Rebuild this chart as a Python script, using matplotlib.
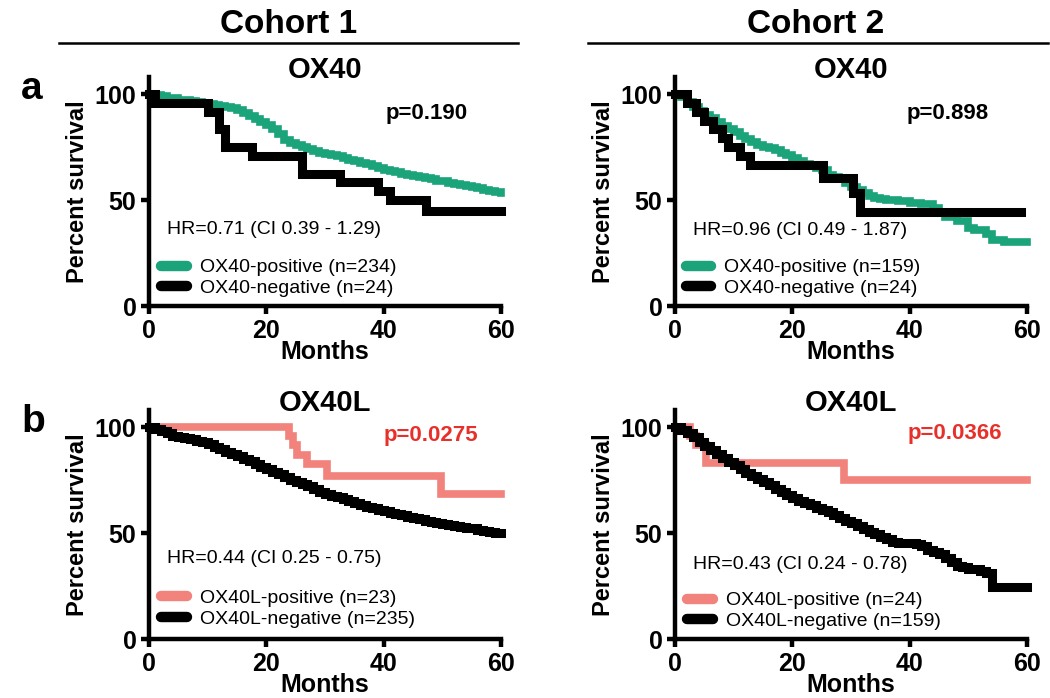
import matplotlib
matplotlib.use("Agg")
import matplotlib.pyplot as plt
from matplotlib import font_manager
from matplotlib.lines import Line2D

# ---- values ----
month_ticks = [0, 20, 40, 60]
pct_ticks = [0, 50, 100]

# Cohort 1, OX40
c1_ox40_pos_t = list(range(0, 61))
c1_ox40_pos_s = [100, 99.6, 99, 98.3, 97.9, 97.4, 97, 96.6, 96.2, 95.7,
                 95.3, 94.9, 94.4, 94, 93.2, 92.3, 91, 89.7, 88.4, 87,
                 85.5, 83.5, 81, 78.5, 77, 76, 75, 74, 73, 72.3,
                 71.7, 71.2, 70.8, 70, 69, 68.2, 67.5, 66.8, 66, 65,
                 64.2, 63.6, 63, 62.4, 61.9, 61.3, 60.7, 60.2, 59.7, 59.2,
                 58.8, 58.2, 57.7, 57.2, 56.8, 56.2, 55.5, 54.8, 54.3, 53.8, 53.5]
c1_ox40_neg_t = [0, 1, 10, 12, 13, 17.5, 26, 32.5, 39, 41, 47.3, 60]
c1_ox40_neg_s = [100, 95.8, 91.7, 83.3, 75.0, 70.8, 62.5, 58.3, 54.2, 50.0, 44.6, 44.6]

# Cohort 2, OX40
c2_ox40_pos_t = list(range(0, 37)) + [38, 40, 42, 44, 45, 46, 48, 50, 51, 53, 54, 56, 60]
c2_ox40_pos_s = [100, 98.7, 96, 94, 92, 90, 88.5, 87, 85, 83.5,
                 82, 80, 79, 77.5, 76, 75, 74.5, 73.5, 72, 71,
                 70, 68.5, 67, 66, 65, 64, 62, 61, 60, 58,
                 56, 54.5, 53.5, 52, 51, 50.5, 50,
                 49.5, 48.5, 48, 46, 44, 42, 40, 37, 36, 34, 31, 30, 30]
c2_ox40_neg_t = [0, 2, 3.5, 5, 6.5, 8, 9, 11, 12.8, 25.2, 30.3, 31.5, 59]
c2_ox40_neg_s = [100, 95.8, 91.7, 87.5, 83.3, 79.2, 75.0, 70.8, 66.7, 60.4, 53.3, 44.4, 44.4]

# Cohort 1, OX40L
c1_ox40l_pos_t = [0, 23.8, 24.6, 25.2, 26.9, 30.3, 49.7, 60]
c1_ox40l_pos_s = [100, 95.7, 91.3, 87.0, 82.6, 76.9, 68.5, 68.5]
c1_ox40l_neg_t = list(range(0, 61))
c1_ox40l_neg_s = [100, 99, 98, 97, 96, 95.5, 95, 94.4, 93.6, 92.8,
                  91.8, 90.7, 89.5, 88.3, 87.2, 86.2, 85, 83.8, 82.5, 81.2,
                  80, 79, 78, 76.5, 75, 74, 73, 72, 70.6, 69.4,
                  68.5, 67.6, 66.8, 66, 65, 64, 63.2, 62.5, 61.9, 61,
                  60.3, 59.6, 58.9, 58.3, 57.7, 57, 56.4, 55.8, 55.2, 54.8,
                  54.4, 54, 53.5, 53, 52.6, 52.2, 51.6, 51, 50.5, 50, 50]

# Cohort 2, OX40L
c2_ox40l_pos_t = [0, 2.5, 3.5, 5.3, 28.8, 60]
c2_ox40l_pos_s = [100, 95.8, 91.7, 82.8, 75.0, 75.0]
c2_ox40l_neg_t = list(range(0, 61))
c2_ox40l_neg_s = [100, 98.5, 97, 95.5, 93, 91, 89, 87.5, 85.5, 83.5,
                  82, 80, 78.5, 77, 75.5, 74, 72.5, 71, 69.5, 68,
                  66.5, 65, 64, 63, 62, 61, 60, 58.5, 57, 55.5,
                  54.5, 53.5, 52, 50.5, 49.5, 48, 47, 46, 45.3, 45.3,
                  45.3, 45, 44, 42, 41, 40, 38, 36.5, 34.5, 34,
                  33, 33, 32, 31, 24.5, 24.5, 24.5, 24.5, 24.5, 24.5, 24.5]

GREEN = "#1ba37a"
PINK = "#f2827c"
RED = "#e8302a"


def has_font(name):
    try:
        font_manager.findfont(name, fallback_to_default=False)
        return True
    except ValueError:
        return False


plt.rcParams["font.family"] = ["Liberation Sans", "DejaVu Sans"]
narrow = "Liberation Sans Narrow" if has_font("Liberation Sans Narrow") else "Liberation Sans"

fig = plt.figure(figsize=(10.5, 6.98), dpi=100)

panels = [
    dict(rect=[0.1419, 0.5616, 0.3352, 0.328], title="OX40",
         pos=(c1_ox40_pos_t, c1_ox40_pos_s, "OX40-positive (n=234)", GREEN),
         neg=(c1_ox40_neg_t, c1_ox40_neg_s, "OX40-negative (n=24)"),
         p="p=0.190", pcol="black", pxy=(47.4, 91),
         hr="HR=0.71 (CI 0.39 - 1.29)", hry=0.333, leg=(0.035, 0.04)),
    dict(rect=[0.6429, 0.5616, 0.3352, 0.328], title="OX40",
         pos=(c2_ox40_pos_t, c2_ox40_pos_s, "OX40-positive (n=159)", GREEN),
         neg=(c2_ox40_neg_t, c2_ox40_neg_s, "OX40-negative (n=24)"),
         p="p=0.898", pcol="black", pxy=(46.4, 91),
         hr="HR=0.96 (CI 0.49 - 1.87)", hry=0.328, leg=(0.03, 0.04)),
    dict(rect=[0.1419, 0.0845, 0.3352, 0.328], title="OX40L",
         pos=(c1_ox40l_pos_t, c1_ox40l_pos_s, "OX40L-positive (n=23)", PINK),
         neg=(c1_ox40l_neg_t, c1_ox40l_neg_s, "OX40L-negative (n=235)"),
         p="p=0.0275", pcol=RED, pxy=(48, 96),
         hr="HR=0.44 (CI 0.25 - 0.75)", hry=0.35, leg=(0.035, 0.05)),
    dict(rect=[0.6429, 0.0845, 0.3352, 0.328], title="OX40L",
         pos=(c2_ox40l_pos_t, c2_ox40l_pos_s, "OX40L-positive (n=24)", PINK),
         neg=(c2_ox40l_neg_t, c2_ox40l_neg_s, "OX40L-negative (n=159)"),
         p="p=0.0366", pcol=RED, pxy=(47.7, 97),
         hr="HR=0.43 (CI 0.24 - 0.78)", hry=0.324, leg=(0.035, 0.04)),
]

for cfg in panels:
    ax = fig.add_axes(cfg["rect"])
    pt, ps, plab, pcolor = cfg["pos"]
    nt, ns, nlab = cfg["neg"]
    ax.step(pt, ps, where="post", color=pcolor, lw=5.5, label=plab,
            solid_joinstyle="miter", clip_on=False, zorder=3)
    ax.step(nt, ns, where="post", color="black", lw=6.5, label=nlab,
            solid_joinstyle="miter", clip_on=False, zorder=4)

    ax.set_xlim(0, 60)
    ax.set_ylim(0, 108)
    ax.set_xticks(month_ticks)
    ax.set_yticks(pct_ticks)
    for side in ("top", "right"):
        ax.spines[side].set_visible(False)
    for side in ("left", "bottom"):
        ax.spines[side].set_linewidth(3.2)
    ax.tick_params(width=3.2, length=6, labelsize=18, pad=3)
    for lab in ax.get_xticklabels() + ax.get_yticklabels():
        lab.set_fontweight("bold")
    ax.set_xlabel("Months", fontsize=18, fontweight="bold", labelpad=-2)
    ax.set_ylabel("Percent survival", fontsize=17, fontweight="bold", labelpad=4)

    ax.text(0.5, 1.03, cfg["title"], transform=ax.transAxes, ha="center",
            va="center", fontsize=21, fontweight="bold")
    ax.text(cfg["pxy"][0], cfg["pxy"][1], cfg["p"], ha="center", va="center",
            fontsize=16, fontweight="bold", color=cfg["pcol"])
    ax.text(0.05, cfg["hry"], cfg["hr"], transform=ax.transAxes, ha="left",
            va="center", fontsize=14)

    leg = ax.legend(loc="lower left", bbox_to_anchor=cfg["leg"], frameon=False,
                    fontsize=14, handlelength=1.3, handletextpad=0.7,
                    labelspacing=0.15, borderpad=0, borderaxespad=0)
    for h in leg.get_lines():
        h.set_linewidth(7.5)
        h.set_solid_capstyle("round")

# column headers
for xc, name, x0, x1 in [(0.275, "Cohort 1", 0.056, 0.493),
                         (0.777, "Cohort 2", 0.560, 0.998)]:
    fig.text(xc, 0.965, name, ha="center", va="center", fontsize=24,
             fontweight="bold", family=[narrow, "DejaVu Sans"])
    fig.add_artist(Line2D([x0, x1], [0.938, 0.938], color="black", lw=1.8))

fig.text(0.02, 0.873, "a", fontsize=28, fontweight="bold", ha="left", va="center")
fig.text(0.02, 0.395, "b", fontsize=28, fontweight="bold", ha="left", va="center")

fig.savefig("out.png", dpi=100)
